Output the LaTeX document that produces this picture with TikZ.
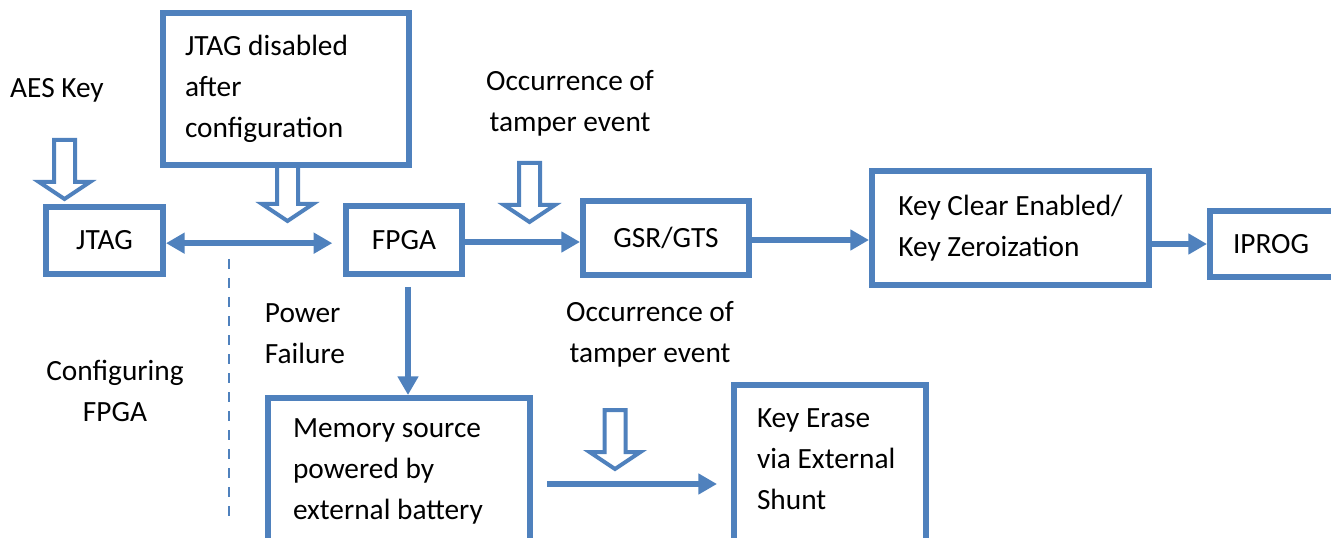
\documentclass[tikz,border=0pt]{standalone}
\usepackage{fontspec}
\setmainfont{Carlito}
\usetikzlibrary{arrows.meta}
\definecolor{accent}{HTML}{4F81BD}

\begin{document}
\begin{tikzpicture}[x=0.75pt,y=-0.75pt, >={Triangle[length=14pt,width=15pt]}] % единица = пиксель
\tikzstyle{box} = [draw=accent, line width=4.5pt, fill=white, inner sep=0pt, font=\fontsize{22}{30.75}\selectfont] % рамка блока
\tikzstyle{txt} = [inner sep=0pt, font=\fontsize{22}{30.75}\selectfont] % подпись без рамки
\tikzstyle{arr} = [draw=accent, line width=4.5pt, ->] % сплошная стрелка
\tikzstyle{dividing} = [draw=accent, line width=2pt, dash pattern=on 7.5pt off 6.75pt] % пунктир
\tikzset{hollow/.pic={\draw[accent, line width=3pt, line join=miter, fill=white]
	(-10.5,2) -- (10.5,2) -- (10.5,44) -- (25.5,44) -- (0,61) -- (-25.5,44) -- (-10.5,44) -- cycle;}} % полая стрелка

\clip (0,0) rectangle (1331,538);

\pic (aes) at (64.5,138) {hollow};
\pic (off) at (287.5,160) {hollow};
\pic (tamp) at (529.5,161) {hollow};
\pic (tampb) at (615,408) {hollow};

\node[box, minimum width=184.5pt, minimum height=114pt, text width=151.5pt, align=flush left] (dis) at (286,89) {JTAG disabled\\after\\configuration};
\node[box, minimum width=87.75pt, minimum height=50.25pt] (jtag) at (104.5,240.5) {JTAG};
\node[box, minimum width=87pt, minimum height=51pt] (fpga) at (404,240) {FPGA};
\node[box, minimum width=124.5pt, minimum height=55.5pt] (gsr) at (666,238) {GSR/GTS};
\node[box, minimum width=207.75pt, minimum height=85.5pt, align=left] (clr) at (1010.5,228) {Key Clear Enabled/\\Key Zeroization};
\node[box, minimum width=112.5pt, minimum height=49.5pt, text width=78pt, align=flush left] (iprog) at (1285,244) {IPROG};
\node[box, anchor=north, minimum width=196.5pt, text width=159pt, align=flush left, inner ysep=15.75pt, text depth=90pt] (mem) at (399,395) {Memory source\\powered by\\external battery};
\node[box, anchor=north, minimum width=144pt, text width=109.5pt, align=flush left, inner ysep=18pt, text depth=90pt] (erase) at (830,382) {Key Erase\\via External\\Shunt};

\node[txt] (aestxt) at (57,90) {AES Key};
\node[txt, align=center] (tamptop) at (570,103) {Occurrence of\\tamper event};
\node[txt, align=left] (power) at (305,334) {Power\\Failure};
\node[txt, align=center] (cfgtxt) at (115,391) {Configuring\\FPGA};
\node[txt, align=center] (tampbot) at (650,334) {Occurrence of\\tamper event};

\draw[arr, <->, shorten >=8pt] ([yshift=-2pt]jtag.east) -- ([yshift=-2pt]jtag.east -| fpga.west);
\draw[arr] ([yshift=-1.5pt]fpga.east) -- ([yshift=-1.5pt]fpga.east -| gsr.west);
\draw[arr] ([yshift=-1.5pt]gsr.east) -- ([yshift=-1.5pt]gsr.east -| clr.west);
\draw[arr] (clr.east |- iprog.west) -- (iprog.west);
\draw[arr, shorten <=7.5pt] ([xshift=3pt]fpga.south) -- ([xshift=3pt]fpga.south |- mem.north);
\draw[arr, shorten <=10.5pt, shorten >=10.5pt] ([yshift=-76.5pt]erase.north -| mem.east) -- ([yshift=-76.5pt]erase.north -| erase.west);

\coordinate (dtop) at (229,259);
\coordinate (dbot) at (229,525);
\draw[dividing] (dtop) -- (dbot);
\end{tikzpicture}
\end{document}
